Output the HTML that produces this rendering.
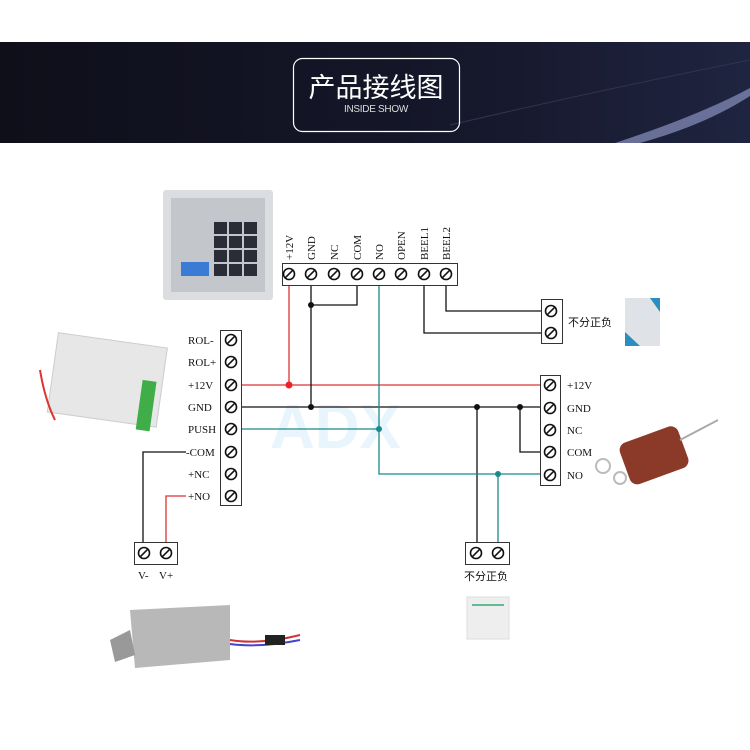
<!DOCTYPE html>
<html><head><meta charset="utf-8"><style>
html,body{margin:0;padding:0;background:#fff}
svg{display:block}
.t{font-family:"Liberation Serif","Noto Serif CJK SC",serif;font-size:11px;fill:#111}
.c{font-family:"Liberation Sans","Noto Sans CJK SC",sans-serif;font-size:11px;fill:#111}
</style></head><body>
<svg width="750" height="750" viewBox="0 0 750 750" xmlns="http://www.w3.org/2000/svg">
<defs>
<linearGradient id="hb" x1="0" y1="0" x2="1" y2="0">
<stop offset="0" stop-color="#0f0f1a"/><stop offset="0.6" stop-color="#15172a"/><stop offset="1" stop-color="#1f2440"/>
</linearGradient>
<g id="s"><circle r="5.5" fill="#fff" stroke="#111" stroke-width="1.6"/><line x1="-3.8" y1="3.8" x2="3.8" y2="-3.8" stroke="#111" stroke-width="1.6"/></g>
</defs>
<rect x="0" y="42" width="750" height="101" fill="url(#hb)"/>
<path d="M615 143 Q700 115 750 88 L750 96 Q705 125 640 143 Z" fill="#8a93c0" opacity="0.7"/>
<path d="M450 125 Q600 90 750 60" stroke="#2f3450" stroke-width="1" fill="none"/>
<rect x="293.5" y="58.5" width="166" height="73" rx="9" fill="none" stroke="#fff" stroke-width="1.2"/>
<text x="376" y="97" text-anchor="middle" font-family="Liberation Sans,'Noto Sans CJK SC',sans-serif" font-size="27" fill="#fff">产品接线图</text>
<text x="376" y="112" text-anchor="middle" font-family="Liberation Sans,sans-serif" font-size="10" fill="#ddd" letter-spacing="-0.3">INSIDE SHOW</text>

<text x="270" y="448" font-family="Liberation Sans,sans-serif" font-weight="bold" font-size="62" fill="#e9f5fc">ADX</text>

<rect x="163" y="190" width="110" height="110" fill="#dcdde0" rx="3"/>
<rect x="171" y="198" width="94" height="94" fill="#c3c7cc"/>
<g fill="#2a2c38">
<rect x="214" y="222" width="13" height="12"/><rect x="229" y="222" width="13" height="12"/><rect x="244" y="222" width="13" height="12"/>
<rect x="214" y="236" width="13" height="12"/><rect x="229" y="236" width="13" height="12"/><rect x="244" y="236" width="13" height="12"/>
<rect x="214" y="250" width="13" height="12"/><rect x="229" y="250" width="13" height="12"/><rect x="244" y="250" width="13" height="12"/>
<rect x="214" y="264" width="13" height="12"/><rect x="229" y="264" width="13" height="12"/><rect x="244" y="264" width="13" height="12"/>
</g>
<rect x="181" y="262" width="28" height="14" fill="#3a7bd5"/>
<g transform="translate(40,320) rotate(8)">
<rect x="20" y="10" width="110" height="80" fill="#e7e7e7" stroke="#ccc"/>
<rect x="110" y="45" width="14" height="50" fill="#3fae48"/>
</g>
<path d="M40 370 Q45 400 55 420" stroke="#d33" stroke-width="2" fill="none"/>
<rect x="625" y="298" width="35" height="48" fill="#dfe3e8"/>
<path d="M650 298 L660 298 L660 312 Z" fill="#2a8fc0"/><path d="M625 332 L640 346 L625 346 Z" fill="#2a8fc0"/>
<g transform="translate(655,455) rotate(-20)"><rect x="-32" y="-22" width="62" height="44" rx="8" fill="#8b3a2a"/></g>
<line x1="680" y1="440" x2="718" y2="420" stroke="#aaa" stroke-width="2"/>
<circle cx="603" cy="466" r="7" fill="none" stroke="#bbb" stroke-width="2"/><circle cx="620" cy="478" r="6" fill="none" stroke="#bbb" stroke-width="2"/>
<g transform="translate(110,600)">
<path d="M20 10 L120 5 L120 60 L25 68 Z" fill="#b8b8b8"/><path d="M0 40 L20 30 L25 55 L5 62 Z" fill="#999"/>
<path d="M120 40 Q150 45 190 35" stroke="#c33" stroke-width="2" fill="none"/><path d="M120 44 Q150 48 190 40" stroke="#44c" stroke-width="2" fill="none"/>
<rect x="155" y="35" width="20" height="10" fill="#222"/>
</g>
<rect x="467" y="597" width="42" height="42" fill="#eeeeee" stroke="#ddd"/>
<line x1="472" y1="605" x2="504" y2="605" stroke="#3a7" stroke-width="1.5"/>

<g fill="none" stroke-width="1.3">
<polyline points="241,385 540,385" stroke="#d33"/>
<polyline points="289,285 289,385" stroke="#d33"/>
<polyline points="241,407 540,407" stroke="#111"/>
<polyline points="311,285 311,407" stroke="#111"/>
<polyline points="357,285 357,305 311,305" stroke="#111"/>
<polyline points="520,407 520,452 540,452" stroke="#111"/>
<polyline points="477,407 477,542" stroke="#111"/>
<polyline points="241,429 379,429" stroke="#1a8a8a"/>
<polyline points="379,285 379,474 540,474" stroke="#1a8a8a"/>
<polyline points="498,474 498,542" stroke="#1a8a8a"/>
<polyline points="424,285 424,333 541,333" stroke="#111"/>
<polyline points="446,285 446,311 541,311" stroke="#111"/>
<polyline points="186,452 143,452 143,542" stroke="#111"/>
<polyline points="186,496 166,496 166,542" stroke="#d33"/>
</g>
<circle cx="289" cy="385" r="3.5" fill="#e22"/>
<circle cx="311" cy="305" r="3" fill="#111"/><circle cx="311" cy="407" r="3" fill="#111"/>
<circle cx="477" cy="407" r="3" fill="#111"/><circle cx="520" cy="407" r="3" fill="#111"/>
<circle cx="379" cy="429" r="3" fill="#1a8a8a"/><circle cx="498" cy="474" r="3" fill="#1a8a8a"/>

<rect x="282.5" y="263.5" width="175" height="22" fill="#fff" stroke="#333"/>
<use href="#s" x="289" y="274"/><use href="#s" x="311" y="274"/><use href="#s" x="334" y="274"/><use href="#s" x="357" y="274"/>
<use href="#s" x="379" y="274"/><use href="#s" x="401" y="274"/><use href="#s" x="424" y="274"/><use href="#s" x="446" y="274"/>
<g class="t">
<text transform="translate(293,260) rotate(-90)">+12V</text>
<text transform="translate(315,260) rotate(-90)">GND</text>
<text transform="translate(338,260) rotate(-90)">NC</text>
<text transform="translate(361,260) rotate(-90)">COM</text>
<text transform="translate(383,260) rotate(-90)">NO</text>
<text transform="translate(405,260) rotate(-90)">OPEN</text>
<text transform="translate(428,260) rotate(-90)">BEEL1</text>
<text transform="translate(450,260) rotate(-90)">BEEL2</text>
</g>

<rect x="220.5" y="330.5" width="21" height="175" fill="#fff" stroke="#333"/>
<use href="#s" x="231" y="340"/><use href="#s" x="231" y="362"/><use href="#s" x="231" y="385"/><use href="#s" x="231" y="407"/>
<use href="#s" x="231" y="429"/><use href="#s" x="231" y="452"/><use href="#s" x="231" y="474"/><use href="#s" x="231" y="496"/>
<g class="t" text-anchor="start">
<text x="188" y="344">ROL-</text><text x="188" y="366">ROL+</text><text x="188" y="389">+12V</text><text x="188" y="411">GND</text>
<text x="188" y="433">PUSH</text><text x="186" y="456">-COM</text><text x="188" y="478">+NC</text><text x="188" y="500">+NO</text>
</g>

<rect x="540.5" y="375.5" width="20" height="110" fill="#fff" stroke="#333"/>
<use href="#s" x="550" y="385"/><use href="#s" x="550" y="408"/><use href="#s" x="550" y="430"/><use href="#s" x="550" y="452"/><use href="#s" x="550" y="475"/>
<g class="t"><text x="567" y="389">+12V</text><text x="567" y="412">GND</text><text x="567" y="434">NC</text><text x="567" y="456">COM</text><text x="567" y="479">NO</text></g>

<rect x="541.5" y="299.5" width="21" height="44" fill="#fff" stroke="#333"/>
<use href="#s" x="551" y="311"/><use href="#s" x="551" y="333"/>
<text class="c" x="568" y="326">不分正负</text>

<rect x="465.5" y="542.5" width="44" height="22" fill="#fff" stroke="#333"/>
<use href="#s" x="476" y="553"/><use href="#s" x="498" y="553"/>
<text class="c" x="464" y="580">不分正负</text>

<rect x="134.5" y="542.5" width="43" height="22" fill="#fff" stroke="#333"/>
<use href="#s" x="144" y="553"/><use href="#s" x="166" y="553"/>
<text class="t" x="138" y="579">V-</text><text class="t" x="159" y="579">V+</text>
</svg>
</body></html>
